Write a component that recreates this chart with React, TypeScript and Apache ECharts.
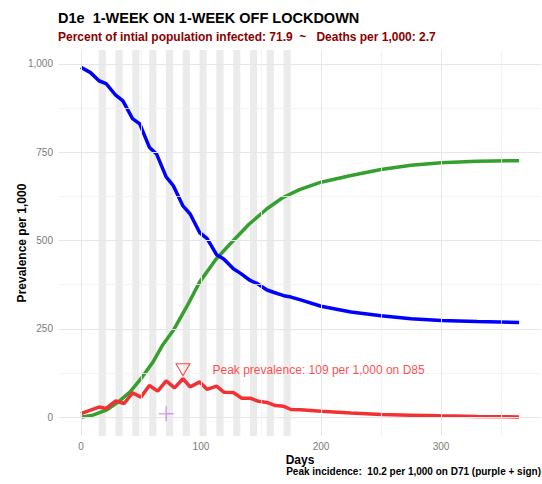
import React, { useEffect, useRef } from "react";
import * as echarts from "echarts";

const FONT = "'Liberation Sans', Arial, sans-serif";

// Susceptible (blue)
const sDays = [0, 8, 15, 21, 29, 35, 43, 49, 57, 63, 71, 77, 85, 91, 99, 105, 113, 119, 127, 133, 141, 147, 155, 161, 169, 175, 183, 200, 225, 250, 275, 300, 330, 365];
const sVals = [990, 975, 952, 944, 911, 895, 845, 830, 764, 745, 680, 655, 598, 575, 522, 506, 460, 448, 420, 407, 387, 378, 360, 353, 344, 340, 332, 314, 298, 287, 279, 274, 271, 268];

// Recovered (green)
const rDays = [0, 10, 21, 31, 41, 50, 60, 68, 77, 88, 99, 113, 127, 140, 155, 168, 182, 200, 225, 250, 275, 300, 330, 365];
const rVals = [0, 6, 20, 43, 72, 109, 156, 204, 246, 312, 383, 449, 500, 546, 590, 621, 644, 665, 684, 701, 713, 720, 724, 726];

// Prevalence (red)
const iDays = [0, 8, 15, 21, 29, 36, 43, 50, 57, 64, 71, 78, 85, 91, 99, 105, 113, 119, 127, 134, 141, 148, 155, 162, 169, 175, 183, 200, 225, 250, 275, 300, 330, 365];
const iVals = [10, 20, 29, 25, 46, 39, 69, 57, 90, 74, 103, 83, 109, 86, 100, 79, 88, 71, 70, 54, 54, 45, 42, 33, 31, 22, 21, 17, 12, 8, 6, 4, 2, 1];

// Lockdown weeks (grey bands)
const bandStart = [14.8, 28.8, 42.8, 56.8, 70.8, 84.8, 98.8, 112.8, 126.8, 140.8, 154.8, 168.8];
const bandEnd = [20.8, 34.8, 48.8, 62.8, 76.8, 90.8, 104.8, 118.8, 132.8, 146.8, 160.8, 174.8];

const xTicks = [0, 100, 200, 300];
const xMinor = [50, 150, 250, 350];
const yTicks = [0, 250, 500, 750, 1000];
const yMinor = [125, 375, 625, 875];

const peakDay = 85;
const peakValue = 109;
const incDay = 71;
const incValue = 10.2;

const titleText = "D1e  1-WEEK ON 1-WEEK OFF LOCKDOWN";
const subtitleText = "Percent of intial population infected: 71.9  ~   Deaths per 1,000: 2.7";
const captionText = "Peak incidence:  10.2 per 1,000 on D71 (purple + sign)";
const peakText = "Peak prevalence: 109 per 1,000 on D85";

const zip = (d: number[], v: number[]) => d.map((x, i) => [x, v[i]]);
const fmt = (v: number) => v.toLocaleString("en-US");

export default function App() {
  const ref = useRef<HTMLDivElement>(null);
  useEffect(() => {
    if (!ref.current) return;
    const chart = echarts.init(ref.current, undefined, { renderer: "svg" });
    const gridLines = [
      ...xTicks.map((v) => ({ xAxis: v, lineStyle: { color: "#e6e6e6", width: 1 } })),
      ...xMinor.map((v) => ({ xAxis: v, lineStyle: { color: "#f0f0f0", width: 0.8 } })),
      ...yTicks.map((v) => ({ yAxis: v, lineStyle: { color: "#e6e6e6", width: 1 } })),
      ...yMinor.map((v) => ({ yAxis: v, lineStyle: { color: "#f0f0f0", width: 0.8 } })),
    ];
    const option: any = {
      animation: false,
      backgroundColor: "#ffffff",
      grid: { left: 59, right: 1, top: 50, bottom: 48, containLabel: false },
      xAxis: {
        type: "value",
        min: -18.25,
        max: 383.25,
        axisLine: { show: false },
        axisTick: { show: false },
        splitLine: { show: false },
        axisLabel: { customValues: xTicks, color: "#7a7a7a", fontSize: 10, margin: 5, fontFamily: FONT },
        name: "Days",
        nameLocation: "middle",
        nameGap: 17.5,
        nameMoveOverlap: false,
        nameTextStyle: { fontWeight: "bold", fontSize: 12, color: "#000", fontFamily: FONT },
      },
      yAxis: {
        type: "value",
        min: -53,
        max: 1039,
        axisLine: { show: false },
        axisTick: { show: false },
        splitLine: { show: false },
        axisLabel: { customValues: yTicks, formatter: (v: number) => fmt(v), color: "#7a7a7a", fontSize: 10, margin: 6, fontFamily: FONT },
        name: "Prevalence per 1,000",
        nameLocation: "middle",
        nameRotate: 90,
        nameGap: 31,
        nameMoveOverlap: false,
        nameTextStyle: { fontWeight: "bold", fontSize: 12, color: "#000", fontFamily: FONT },
      },
      series: [
        {
          type: "line",
          name: "grid",
          data: [],
          z: 1,
          silent: true,
          markLine: { silent: true, symbol: ["none", "none"], label: { show: false }, lineStyle: { type: "solid" }, data: gridLines },
        },
        {
          type: "line",
          name: "bands",
          data: [],
          z: 2,
          silent: true,
          markArea: {
            silent: true,
            itemStyle: { color: "rgba(0,0,0,0.08)" },
            data: bandStart.map((s, i) => [{ xAxis: s }, { xAxis: bandEnd[i] }]),
          },
        },
        {
          type: "line",
          name: "Recovered",
          data: zip(rDays, rVals),
          showSymbol: false,
          z: 3,
          lineStyle: { color: "#36a02e", width: 3.5 },
          itemStyle: { color: "#36a02e" },
        },
        {
          type: "line",
          name: "Susceptible",
          data: zip(sDays, sVals),
          showSymbol: false,
          z: 3,
          lineStyle: { color: "#0000ff", width: 3.5 },
          itemStyle: { color: "#0000ff" },
        },
        {
          type: "line",
          name: "Prevalence",
          data: zip(iDays, iVals),
          showSymbol: false,
          z: 4,
          lineStyle: { color: "#f23232", width: 3.5 },
          itemStyle: { color: "#f23232" },
        },
        {
          type: "scatter",
          name: "peak",
          data: [[peakDay, peakValue]],
          z: 5,
          symbol: "path://M0,0 L10,0 L5,9 Z",
          symbolSize: [14, 12],
          symbolOffset: [0, -9],
          itemStyle: { color: "rgba(255,255,255,0)", borderColor: "#ff1a1a", borderWidth: 1 },
          label: {
            show: true,
            position: "right",
            distance: 22,
            formatter: peakText,
            color: "#ff1a1a",
            fontSize: 12,
            fontFamily: FONT,
          },
        },
        {
          type: "scatter",
          name: "incidence",
          data: [[incDay, incValue]],
          z: 5,
          symbol: "path://M0,5 L10,5 M5,0 L5,10",
          symbolSize: 15,
          itemStyle: { color: "rgba(0,0,0,0)", borderColor: "rgba(160,32,240,0.5)", borderWidth: 1.5 },
        },
      ],
      graphic: [
        {
          type: "text",
          x: 58,
          y: 17.5,
          style: { text: titleText, fontSize: 14.5, fontWeight: "bold", fill: "#000", fontFamily: FONT, textVerticalAlign: "middle" },
        },
        {
          type: "text",
          x: 58,
          y: 37,
          style: { text: subtitleText, fontSize: 12, fontWeight: "bold", fill: "#8b0000", fontFamily: FONT, textVerticalAlign: "middle" },
        },
        {
          type: "text",
          x: 541,
          y: 471,
          style: { text: captionText, fontSize: 10, fontWeight: "bold", fill: "#000", fontFamily: FONT, textAlign: "right", textVerticalAlign: "middle" },
        },
      ],
    };
    chart.setOption(option);
    return () => chart.dispose();
  }, []);
  return <div ref={ref} style={{ position: "fixed", left: 0, top: 0, width: 542, height: 484 }} />;
}
